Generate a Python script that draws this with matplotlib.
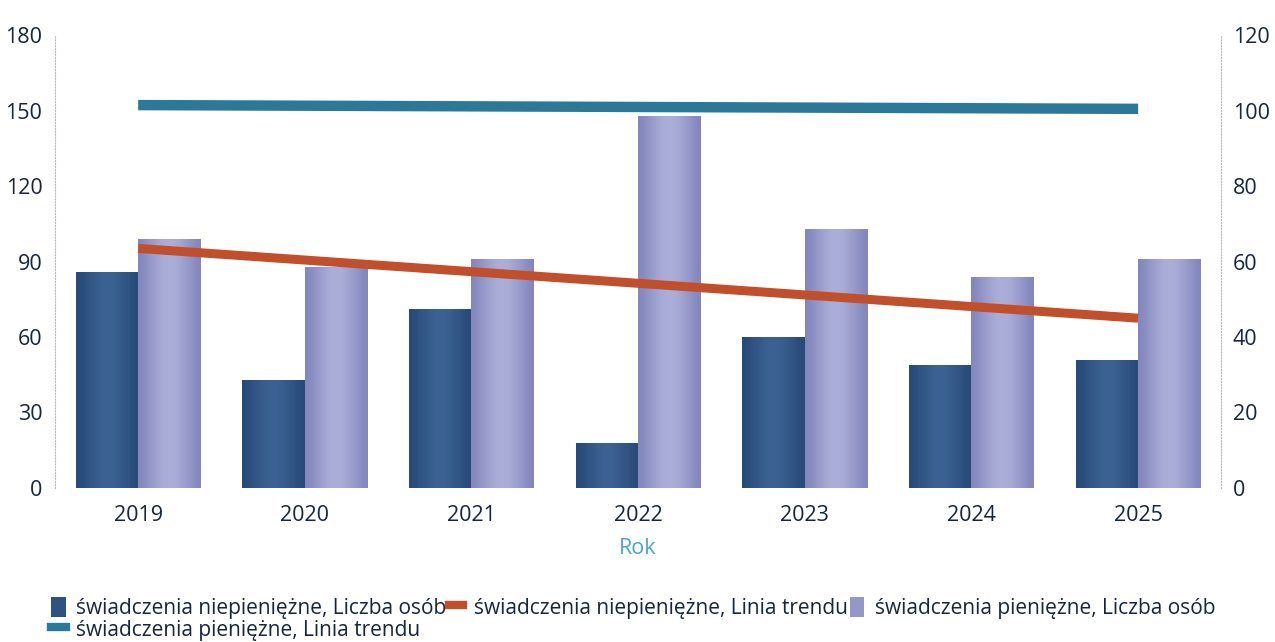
import matplotlib
matplotlib.use("Agg")
import matplotlib.pyplot as plt
import numpy as np
from matplotlib.lines import Line2D
from matplotlib.patches import Patch

plt.rcParams['font.family'] = ['Open Sans', 'DejaVu Sans']

# data
years = ['2019', '2020', '2021', '2022', '2023', '2024', '2025']
niepieniezne = [86, 43, 71, 18, 60, 49, 51]      # left axis
pieniezne = [99, 88, 91, 148, 103, 84, 91]       # left axis
# trend lines (drawn on the right axis), first and last year
trend_niep = [63.5, 45.0]
trend_pien = [101.5, 100.5]

left_ticks = [0, 30, 60, 90, 120, 150, 180]
right_ticks = [0, 20, 40, 60, 80, 100, 120]

DARK = '#2f5283'
LAV = '#9597c9'
ORANGE = '#c24f2b'
TEAL = '#2c7898'
TXT = '#17253c'


def shade_bars(ax, bars, c_edge, c_mid):
    """cylinder-like horizontal gradient inside each bar"""
    c1 = np.array(matplotlib.colors.to_rgb(c_edge))
    c2 = np.array(matplotlib.colors.to_rgb(c_mid))
    t = np.linspace(0, 1, 64)
    w = np.sin(np.pi * t) ** 1.5
    img = (c1[None, :] * (1 - w[:, None]) + c2[None, :] * w[:, None])[None, :, :]
    for b in bars:
        x0, y0 = b.get_x(), b.get_y()
        im = ax.imshow(img, extent=[x0, x0 + b.get_width(), y0, y0 + b.get_height()],
                       aspect='auto', zorder=b.get_zorder() + 0.1, interpolation='bilinear')
        im.set_clip_path(b)


fig = plt.figure(figsize=(12.75, 6.42), dpi=100)
ax = fig.add_axes([0.043, 0.24, 0.915, 0.705])

x = np.arange(len(years))
w = 0.375
b1 = ax.bar(x - w / 2, niepieniezne, w, color=DARK, zorder=2)
b2 = ax.bar(x + w / 2, pieniezne, w, color=LAV, zorder=2)
shade_bars(ax, b1, '#284a79', '#3b6292')
shade_bars(ax, b2, '#8487bd', '#abaed8')

ax.set_xlim(-0.5, len(years) - 0.5)
ax.set_ylim(0, 180)
ax.set_yticks(left_ticks)
ax.set_xticks(x)
ax.set_xticklabels(years)
ax.tick_params(axis='both', length=0, labelsize=15.5, colors=TXT)
ax.tick_params(axis='y', pad=9)
ax.tick_params(axis='x', pad=12)
ax.set_xlabel('Rok', color='#4aa3d6', fontsize=15.5, labelpad=9)
for s in ['top', 'right', 'bottom']:
    ax.spines[s].set_visible(False)
ax.spines['left'].set_linestyle(':')
ax.spines['left'].set_color('#b8b8b8')

ax2 = ax.twinx()
ax2.set_ylim(0, 120)
ax2.set_yticks(right_ticks)
ax2.tick_params(axis='y', length=0, labelsize=15.5, colors=TXT, pad=8)
for s in ['top', 'left', 'bottom']:
    ax2.spines[s].set_visible(False)
ax2.spines['right'].set_linestyle(':')
ax2.spines['right'].set_color('#b8b8b8')

ends = [x[0], x[-1]]
ax2.plot(ends, trend_pien, color=TEAL, lw=7.5, solid_capstyle='butt', zorder=3)
ax2.plot(ends, trend_niep, color=ORANGE, lw=6.5, solid_capstyle='butt', zorder=3)

# legend: row-major look (A, B, C / D) from column-major filling
h_a = Patch(facecolor=DARK)
h_b = Line2D([], [], color=ORANGE, lw=6)
h_c = Patch(facecolor=LAV)
h_d = Line2D([], [], color=TEAL, lw=6)
labels = ['świadczenia niepieniężne, Liczba osób',
          'świadczenia pieniężne, Linia trendu',
          'świadczenia niepieniężne, Linia trendu',
          'świadczenia pieniężne, Liczba osób']
fig.legend([h_a, h_d, h_b, h_c], labels, ncol=3, loc='upper left',
           bbox_to_anchor=(0.032, 0.087), frameon=False, fontsize=15,
           handlelength=0.7, handleheight=1.1, handletextpad=0.5,
           columnspacing=0.1, labelspacing=0.0, borderpad=0, labelcolor=TXT)

fig.savefig('out.png', dpi=100)
